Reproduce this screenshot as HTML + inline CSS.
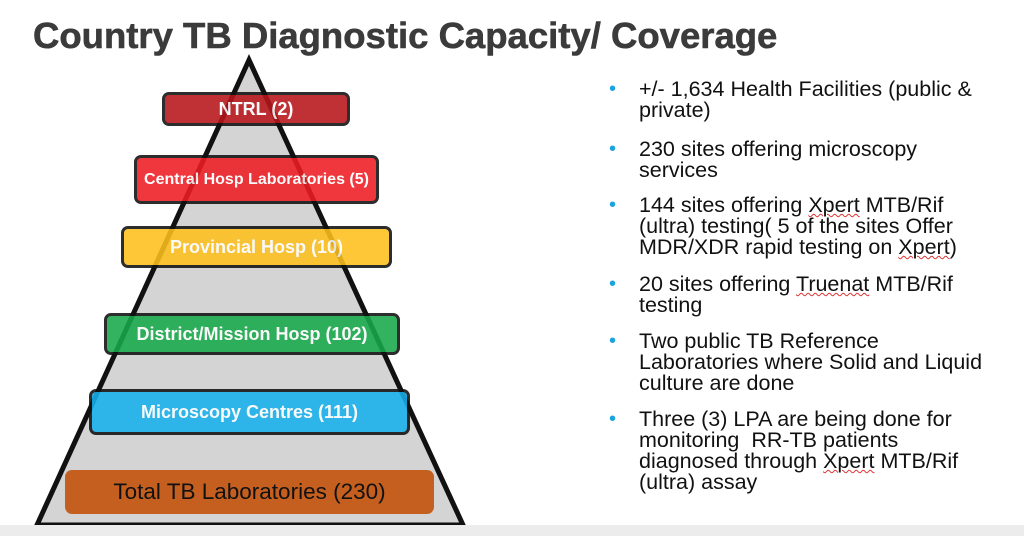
<!DOCTYPE html>
<html><head><meta charset="utf-8"><style>
body{margin:0;width:1024px;height:536px;background:#fff;position:relative;overflow:hidden;font-family:"Liberation Sans",sans-serif}
.t{position:absolute;left:33px;top:15px;font-size:36.5px;font-weight:bold;color:#3b3b3b;white-space:nowrap;letter-spacing:0px;-webkit-text-stroke:0.6px #3b3b3b}
.box{position:absolute;box-sizing:border-box;border:3px solid #111;border-radius:7px;color:#fff;font-weight:bold;display:flex;align-items:center;justify-content:center;font-size:17px;opacity:.88;white-space:nowrap}
.l{position:absolute;left:639px;font-size:21.5px;color:#111;white-space:nowrap;line-height:21px}
.b{position:absolute;left:609px;font-size:20px;color:#1aa3dd}
.w{text-decoration:underline wavy #d33;text-decoration-thickness:1px}
</style></head><body>
<div class="t">Country TB Diagnostic Capacity/ Coverage</div>
<svg style="position:absolute;left:0;top:0" width="1024" height="536">
<polygon points="249,60 37,525 463,525" fill="#d4d4d4" stroke="#111" stroke-width="5" stroke-linejoin="miter"/>
<rect x="0" y="525" width="1024" height="11" fill="#ececec"/>
</svg>
<div class="box" style="left:162px;top:92px;width:188px;height:34px;background:#b8151b;font-size:18px">NTRL (2)</div>
<div class="box" style="left:134px;top:155px;width:245px;height:49px;background:#ee1c24;font-size:16px">Central Hosp Laboratories (5)</div>
<div class="box" style="left:121px;top:226px;width:271px;height:42px;background:#fdc01c;font-size:18px">Provincial Hosp (10)</div>
<div class="box" style="left:104px;top:313px;width:296px;height:42px;background:#17a94a;font-size:18px">District/Mission Hosp (102)</div>
<div class="box" style="left:89px;top:389px;width:321px;height:46px;background:#16b0ec;font-size:18px">Microscopy Centres (111)</div>
<div class="box" style="left:65px;top:470px;width:369px;height:44px;background:#c55f20;border:none;color:#111;font-weight:normal;font-size:22.5px;opacity:1">Total TB Laboratories (230)</div>

<div class="b" style="top:78px">•</div>
<div class="l" style="top:79px">+/- 1,634 Health Facilities (public &amp;<br>private)</div>
<div class="b" style="top:138px">•</div>
<div class="l" style="top:139px">230 sites offering microscopy<br>services</div>
<div class="b" style="top:194px">•</div>
<div class="l" style="top:195px">144 sites offering <span class="w">Xpert</span> MTB/Rif<br>(ultra) testing( 5 of the sites Offer<br>MDR/XDR rapid testing on <span class="w">Xpert</span>)</div>
<div class="b" style="top:273px">•</div>
<div class="l" style="top:274px">20 sites offering <span class="w">Truenat</span> MTB/Rif<br>testing</div>
<div class="b" style="top:330px">•</div>
<div class="l" style="top:331px">Two public TB Reference<br>Laboratories where Solid and Liquid<br>culture are done</div>
<div class="b" style="top:408px">•</div>
<div class="l" style="top:409px">Three (3) LPA are being done for<br>monitoring&nbsp; RR-TB patients<br>diagnosed through <span class="w">Xpert</span> MTB/Rif<br>(ultra) assay</div>
</body></html>
